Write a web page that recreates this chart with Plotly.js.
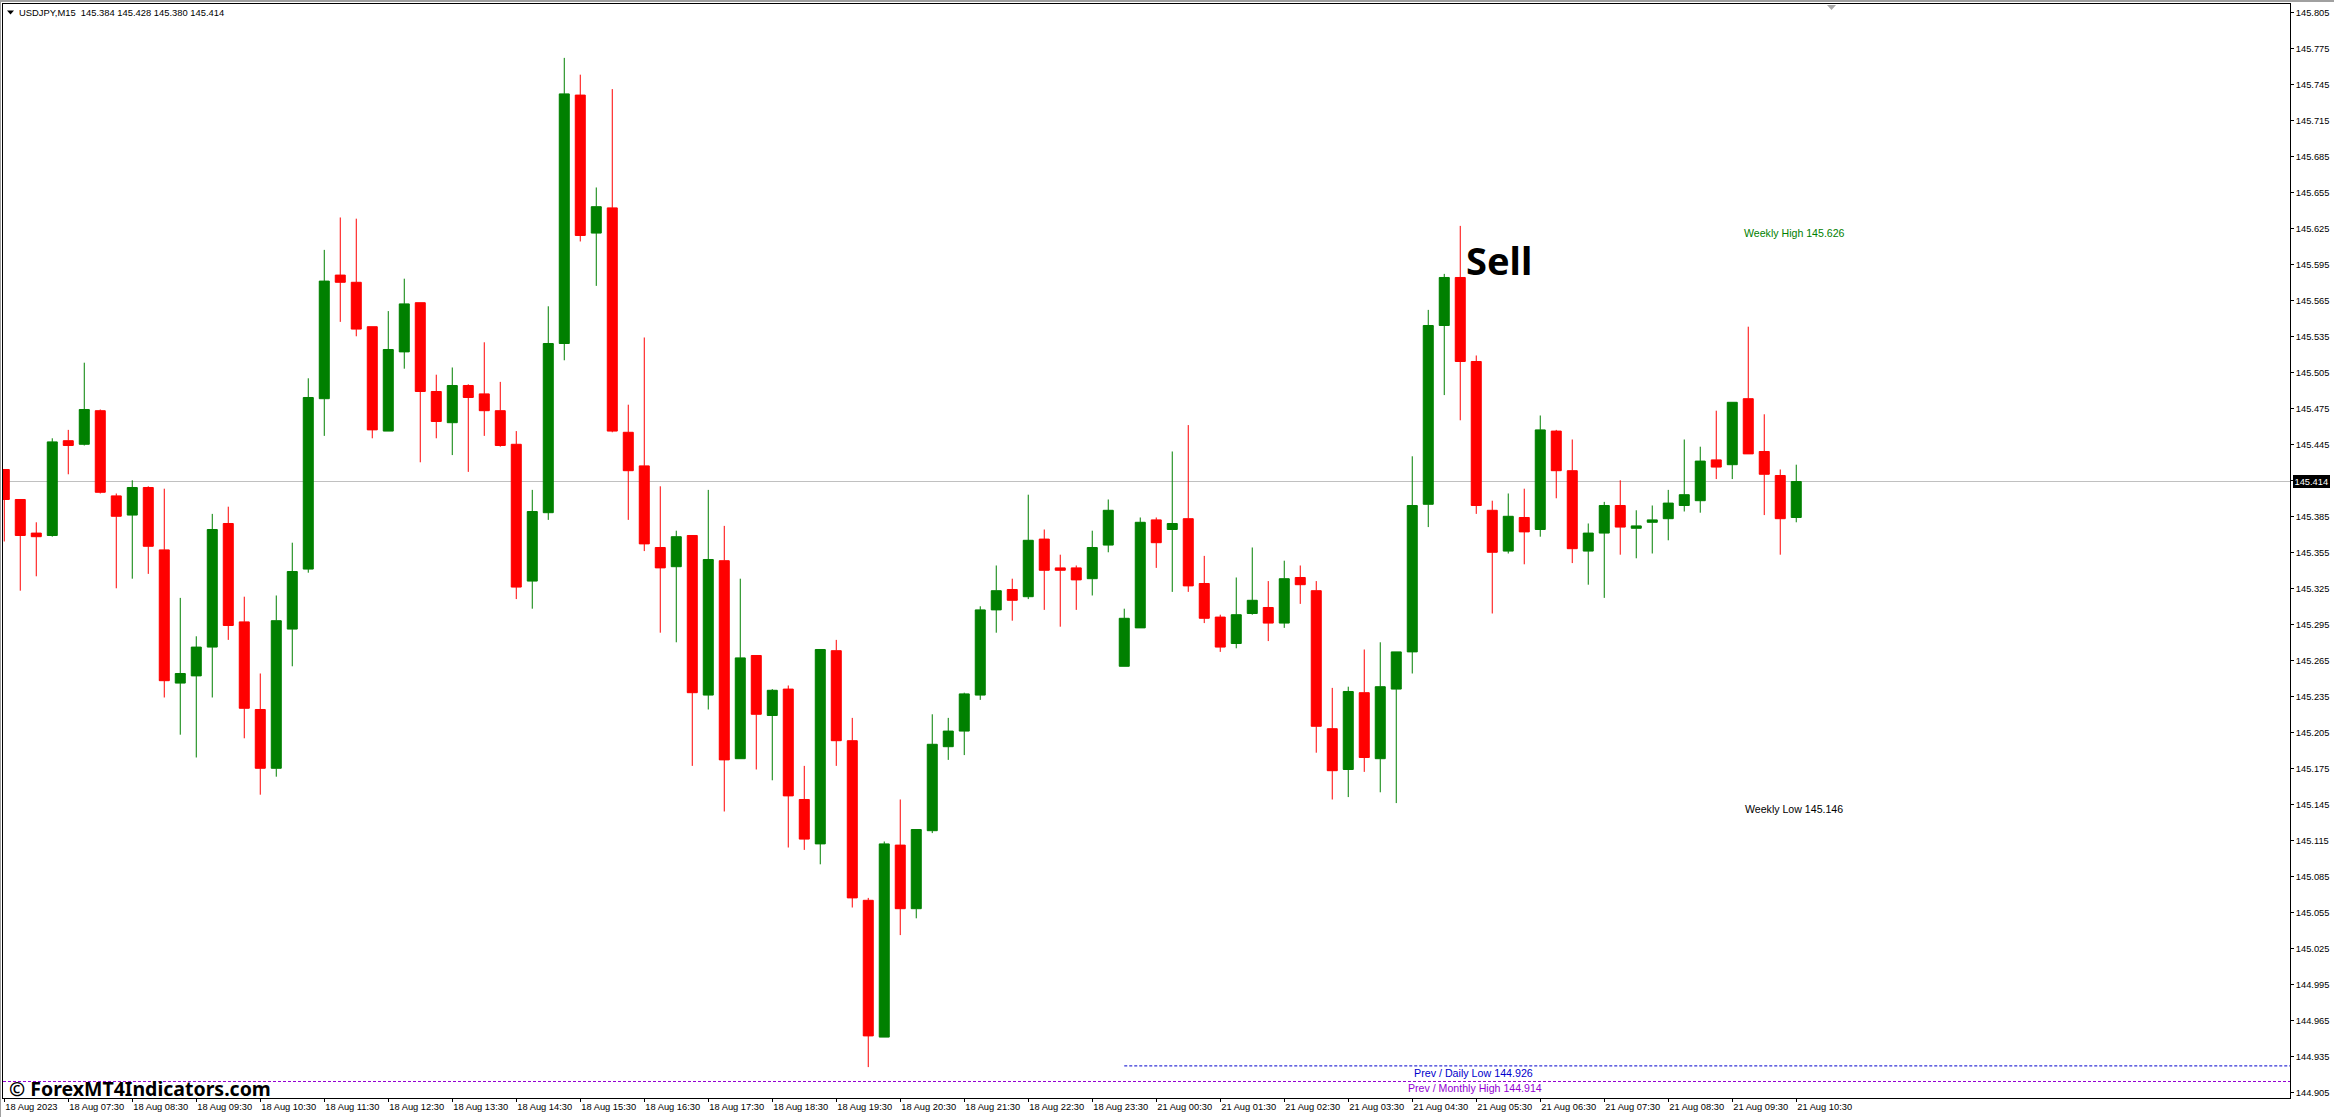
<!DOCTYPE html>
<html>
<head>
<meta charset="utf-8">
<script src="https://cdn.plot.ly/plotly-3.0.1.min.js"></script>
<style>html,body{margin:0;padding:0;background:#fff;overflow:hidden}#chart{width:2334px;height:1117px}</style>
</head>
<body>
<div id="chart"></div>
<script>
const open_ = [145.424,145.399,145.371,145.369,145.448,145.445,145.473,145.402,145.386,145.409,145.357,145.246,145.252,145.276,145.379,145.297,145.224,145.175,145.291,145.341,145.483,145.586,145.580,145.543,145.456,145.522,145.563,145.489,145.463,145.494,145.487,145.473,145.445,145.331,145.388,145.529,145.736,145.621,145.642,145.455,145.427,145.359,145.343,145.369,145.236,145.348,145.183,145.269,145.219,145.241,145.149,145.112,145.273,145.198,145.065,144.951,145.111,145.058,145.123,145.193,145.206,145.236,145.307,145.324,145.318,145.366,145.342,145.342,145.333,145.361,145.260,145.292,145.382,145.374,145.383,145.329,145.301,145.279,145.304,145.309,145.296,145.334,145.323,145.208,145.174,145.238,145.183,145.241,145.272,145.395,145.544,145.584,145.514,145.390,145.356,145.384,145.374,145.456,145.423,145.356,145.371,145.394,145.375,145.380,145.383,145.394,145.398,145.432,145.428,145.483,145.439,145.419,145.384];
const high = [145.424,145.399,145.380,145.450,145.457,145.513,145.474,145.404,145.415,145.410,145.408,145.317,145.285,145.387,145.393,145.318,145.254,145.319,145.363,145.500,145.607,145.634,145.633,145.543,145.556,145.583,145.563,145.503,145.509,145.495,145.530,145.497,145.456,145.407,145.560,145.767,145.753,145.659,145.741,145.478,145.534,145.410,145.373,145.369,145.407,145.377,145.333,145.269,145.241,145.244,145.177,145.274,145.282,145.217,145.067,145.114,145.149,145.124,145.220,145.217,145.238,145.310,145.344,145.333,145.403,145.374,145.353,145.344,145.373,145.399,145.308,145.384,145.384,145.439,145.461,145.352,145.303,145.334,145.359,145.331,145.348,145.344,145.331,145.242,145.243,145.274,145.280,145.272,145.435,145.557,145.587,145.627,145.519,145.398,145.404,145.408,145.469,145.457,145.449,145.379,145.397,145.415,145.390,145.394,145.407,145.449,145.443,145.473,145.480,145.543,145.470,145.424,145.428];
const low = [145.364,145.323,145.335,145.368,145.420,145.444,145.404,145.325,145.333,145.337,145.234,145.203,145.184,145.234,145.282,145.200,145.153,145.168,145.260,145.338,145.452,145.547,145.535,145.450,145.456,145.508,145.430,145.450,145.436,145.422,145.452,145.443,145.316,145.308,145.382,145.515,145.614,145.577,145.455,145.382,145.356,145.288,145.280,145.177,145.224,145.139,145.183,145.174,145.165,145.109,145.107,145.095,145.177,145.059,144.926,144.951,145.036,145.050,145.121,145.182,145.186,145.232,145.288,145.298,145.316,145.307,145.293,145.307,145.319,145.355,145.260,145.292,145.342,145.322,145.322,145.296,145.272,145.275,145.303,145.281,145.292,145.312,145.188,145.149,145.151,145.172,145.155,145.146,145.254,145.376,145.486,145.465,145.387,145.304,145.354,145.345,145.368,145.400,145.346,145.328,145.317,145.353,145.350,145.354,145.365,145.389,145.388,145.416,145.416,145.437,145.386,145.353,145.380];
const close_ = [145.399,145.369,145.368,145.447,145.444,145.474,145.405,145.385,145.409,145.360,145.248,145.254,145.276,145.374,145.294,145.225,145.175,145.298,145.339,145.484,145.581,145.580,145.541,145.457,145.524,145.562,145.489,145.464,145.494,145.484,145.473,145.444,145.326,145.389,145.529,145.737,145.619,145.643,145.456,145.423,145.362,145.342,145.368,145.238,145.349,145.182,145.267,145.220,145.240,145.152,145.116,145.274,145.198,145.067,144.952,145.112,145.058,145.124,145.195,145.206,145.237,145.307,145.323,145.315,145.365,145.340,145.340,145.332,145.359,145.390,145.300,145.380,145.363,145.379,145.327,145.300,145.276,145.303,145.315,145.296,145.333,145.328,145.210,145.173,145.239,145.184,145.243,145.272,145.394,145.544,145.584,145.514,145.394,145.355,145.385,145.372,145.457,145.423,145.358,145.371,145.394,145.376,145.377,145.382,145.396,145.403,145.431,145.426,145.480,145.437,145.420,145.383,145.414];
const timeLabels = ['18 Aug 2023','18 Aug 07:30','18 Aug 08:30','18 Aug 09:30','18 Aug 10:30','18 Aug 11:30','18 Aug 12:30','18 Aug 13:30','18 Aug 14:30','18 Aug 15:30','18 Aug 16:30','18 Aug 17:30','18 Aug 18:30','18 Aug 19:30','18 Aug 20:30','18 Aug 21:30','18 Aug 22:30','18 Aug 23:30','21 Aug 00:30','21 Aug 01:30','21 Aug 02:30','21 Aug 03:30','21 Aug 04:30','21 Aug 05:30','21 Aug 06:30','21 Aug 07:30','21 Aug 08:30','21 Aug 09:30','21 Aug 10:30'];
const priceTicks = [145.805,145.775,145.745,145.715,145.685,145.655,145.625,145.595,145.565,145.535,145.505,145.475,145.445,145.415,145.385,145.355,145.325,145.295,145.265,145.235,145.205,145.175,145.145,145.115,145.085,145.055,145.025,144.995,144.965,144.935,144.905];
const lastPrice = 145.414, prevDailyLow = 144.927, prevMonthlyHigh = 144.914;

const barIndex = open_.map((_, i) => i);
const tickIndex = timeLabels.map((_, i) => i * 4);
const UI = 'Liberation Sans';
const W = 2334, H = 1117, L = 3, R = 2290, T = 4, B = 1098;
const px = x => (x - L) / (R - L);
const py = y => (B - y) / (B - T);
const label = (x, y, text, color, size, extra) => Object.assign({
  xref: 'paper', yref: 'paper', x: px(x), y: py(y), xanchor: 'left', yanchor: 'middle',
  text, showarrow: false, font: {family: UI, size, color}, borderpad: 0, borderwidth: 0
}, extra || {});

const trace = {
  type: 'candlestick', x: barIndex, open: open_, high, low, close: close_,
  whiskerwidth: 0, hoverinfo: 'skip',
  increasing: {line: {color: '#008000', width: 1}, fillcolor: '#008000'},
  decreasing: {line: {color: '#FF0000', width: 1}, fillcolor: '#FF0000'}
};

const layout = {
  width: W, height: H, autosize: false, showlegend: false,
  paper_bgcolor: '#fff', plot_bgcolor: '#fff',
  margin: {l: L, r: W - R, t: T, b: H - B, pad: 0},
  boxgap: 0.375, boxgroupgap: 0,
  xaxis: {
    type: 'linear', range: [-0.08, 142.86], rangeslider: {visible: false},
    showgrid: false, zeroline: false, showline: true, mirror: true, linecolor: '#000', linewidth: 1,
    tickmode: 'array', tickvals: tickIndex, ticktext: timeLabels,
    ticks: 'outside', ticklen: 3, tickcolor: '#000', tickwidth: 1,
    ticklabelposition: 'outside right',
    tickfont: {family: UI, size: 9.3, color: '#000'}, automargin: false
  },
  yaxis: {
    side: 'right', range: [144.90025, 145.8119],
    showgrid: false, zeroline: false, showline: true, mirror: true, linecolor: '#000', linewidth: 1,
    tickmode: 'array', tickvals: priceTicks, ticktext: priceTicks.map(v => v.toFixed(3)),
    ticks: 'outside', ticklen: 3, tickcolor: '#000', tickwidth: 1,
    tickfont: {family: UI, size: 9.3, color: '#000'}, automargin: false
  },
  shapes: [
    {type: 'line', layer: 'below', xref: 'paper', yref: 'y', x0: 0, x1: 1, y0: lastPrice, y1: lastPrice, line: {color: '#C0C0C0', width: 1}},
    {type: 'line', layer: 'above', xref: 'x', yref: 'y', x0: 70, x1: 142.86, y0: prevDailyLow, y1: prevDailyLow, line: {color: '#0000CC', width: 1, dash: '3px,2px'}},
    {type: 'line', layer: 'above', xref: 'paper', yref: 'y', x0: 0, x1: 1, y0: prevMonthlyHigh, y1: prevMonthlyHigh, line: {color: '#9400D3', width: 1, dash: '3px,2px'}},
    {type: 'rect', xref: 'paper', yref: 'paper', x0: px(0), x1: px(W), y0: py(0), y1: py(2), fillcolor: '#A0A0A0', line: {width: 0}},
    {type: 'rect', xref: 'paper', yref: 'paper', x0: px(0), x1: px(1), y0: py(0), y1: py(H), fillcolor: '#A0A0A0', line: {width: 0}},
    {type: 'path', xref: 'paper', yref: 'paper', path: `M ${px(7)} ${py(10.5)} L ${px(14)} ${py(10.5)} L ${px(10.5)} ${py(14.5)} Z`, fillcolor: '#000', line: {width: 0}},
    {type: 'path', xref: 'paper', yref: 'paper', path: `M ${px(1827)} ${py(5)} L ${px(1836)} ${py(5)} L ${px(1831.5)} ${py(10)} Z`, fillcolor: '#A8A8A8', line: {width: 0}}
  ],
  annotations: [
    label(19, 12.5, 'USDJPY,M15  145.384 145.428 145.380 145.414', '#000', 9.4),
    label(1466, 260, 'Sell', '#000', 38, {font: {family: 'Noto Sans', size: 38, color: '#000', weight: 700}}),
    label(1744, 232.7, 'Weekly High 145.626', '#008000', 10.6),
    label(1745, 809, 'Weekly Low 145.146', '#000', 10.6),
    label(1414, 1073.3, 'Prev / Daily Low 144.926', '#0000CC', 10.7),
    label(1408, 1088.3, 'Prev / Monthly High 144.914', '#9400D3', 10.6),
    label(9, 1088, '© ForexMT4Indicators.com', '#000', 19.5, {font: {family: 'Noto Sans', size: 19.5, color: '#000', weight: 700}}),
    {xref: 'paper', yref: 'y', x: 1.0013, y: lastPrice, xanchor: 'left', yanchor: 'middle', showarrow: false,
     text: lastPrice.toFixed(3), bgcolor: '#000', font: {family: UI, size: 9.3, color: '#fff'}, borderpad: 1.5, borderwidth: 0}
  ]
};

Plotly.newPlot('chart', [trace], layout, {staticPlot: true, displayModeBar: false});
</script>
</body>
</html>
